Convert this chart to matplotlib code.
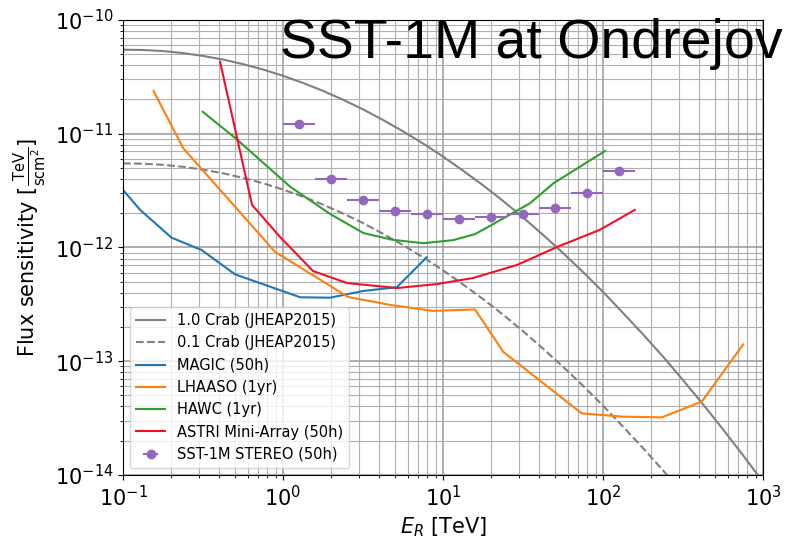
import numpy as np
from matplotlib import pyplot as plt

# Crab spectrum (JHEAP2015), E^2 dN/dE
crab_e = [0.1, 0.133, 0.178, 0.237, 0.316, 0.422, 0.562, 0.75, 1.0, 1.33, 1.78, 2.37,
          3.16, 4.22, 5.62, 7.5, 10.0, 13.3, 17.8, 23.7, 31.6, 42.2, 56.2, 75.0,
          100.0, 133.0, 178.0, 237.0, 316.0, 422.0, 562.0, 750.0, 1000.0]
crab_f = [5.48e-11, 5.45e-11, 5.33e-11, 5.12e-11, 4.83e-11, 4.49e-11, 4.09e-11, 3.67e-11,
          3.23e-11, 2.80e-11, 2.38e-11, 1.99e-11, 1.64e-11, 1.32e-11, 1.05e-11, 8.21e-12,
          6.30e-12, 4.75e-12, 3.52e-12, 2.57e-12, 1.84e-12, 1.29e-12, 8.95e-13, 6.09e-13,
          4.07e-13, 2.67e-13, 1.72e-13, 1.10e-13, 6.83e-14, 4.18e-14, 2.52e-14, 1.49e-14,
          8.69e-15]
crab_tenth = [v * 0.1 for v in crab_f]

magic_e = [0.1, 0.128, 0.201, 0.31, 0.501, 1.28, 1.97, 3.18, 5.14, 7.91]
magic_f = [3.2e-12, 2.14e-12, 1.22e-12, 9.5e-13, 5.81e-13, 3.65e-13, 3.62e-13,
           4.15e-13, 4.47e-13, 8.2e-13]

lhaaso_e = [0.155, 0.238, 0.89, 2.55, 4.66, 8.66, 15.85, 23.8, 73.6, 131, 233, 414, 753]
lhaaso_f = [2.38e-11, 7.45e-12, 9.18e-13, 3.67e-13, 3.13e-13, 2.77e-13, 2.85e-13,
            1.21e-13, 3.48e-14, 3.26e-14, 3.21e-14, 4.41e-14, 1.41e-13]

hawc_e = [0.315, 0.514, 1.106, 1.97, 3.18, 4.8, 7.53, 11.55, 15.85, 19.7, 35, 48.9, 103]
hawc_f = [1.56e-11, 8.93e-12, 3.43e-12, 1.97e-12, 1.34e-12, 1.17e-12, 1.09e-12,
          1.16e-12, 1.31e-12, 1.55e-12, 2.45e-12, 3.66e-12, 7.05e-12]

astri_e = [0.404, 0.64, 0.957, 1.54, 2.51, 5.16, 9.17, 15.4, 29, 51.6, 95.6, 158]
astri_f = [4.3e-11, 2.37e-12, 1.24e-12, 6.21e-13, 4.87e-13, 4.40e-13, 4.77e-13,
           5.39e-13, 7.02e-13, 1.01e-12, 1.43e-12, 2.14e-12]

sst_edges = [1.0, 1.585, 2.512, 3.981, 6.31, 10.0, 15.85, 25.12, 39.81, 63.1, 100.0, 158.5]
sst_e = [1.26, 2.0, 3.16, 5.0, 7.94, 12.6, 20.0, 31.6, 50.1, 79.4, 126]
sst_f = [1.21e-11, 4.0e-12, 2.62e-12, 2.08e-12, 1.98e-12, 1.78e-12, 1.84e-12,
         1.97e-12, 2.21e-12, 3.03e-12, 4.68e-12]

fig = plt.figure(figsize=(7.87, 5.40), dpi=100)
ax = fig.add_axes([0.1563, 0.1204, 0.8132, 0.8426])

ax.plot(crab_e, crab_f, color='gray', lw=1.5, label='1.0 Crab (JHEAP2015)')
ax.plot(crab_e, crab_tenth, color='gray', lw=1.5, ls='--', label='0.1 Crab (JHEAP2015)')
ax.plot(magic_e, magic_f, color='#1f77b4', lw=1.5, label='MAGIC (50h)')
ax.plot(lhaaso_e, lhaaso_f, color='#ff7f0e', lw=1.5, label='LHAASO (1yr)')
ax.plot(hawc_e, hawc_f, color='#2ca02c', lw=1.5, label='HAWC (1yr)')
ax.plot(astri_e, astri_f, color='#f0102a', lw=1.5, label='ASTRI Mini-Array (50h)')

lo = [c - a for c, a in zip(sst_e, sst_edges[:-1])]
hi = [b - c for c, b in zip(sst_e, sst_edges[1:])]
ax.errorbar(sst_e, sst_f, xerr=[lo, hi], fmt='o', color='#9467bd', ms=6, lw=1.5,
            label='SST-1M STEREO (50h)')

ax.set_xscale('log')
ax.set_yscale('log')
ax.set_xlim(0.1, 1000)
ax.set_ylim(1e-14, 1e-10)
ax.grid(True, which='major', color='#999999', lw=1.1)
ax.grid(True, which='minor', color='#b0b0b0', lw=0.8)
ax.tick_params(labelsize=15)
ax.set_xlabel(r'$E_R$ [TeV]', fontsize=15)
ax.set_ylabel(r'Flux sensitivity [$\frac{\rm TeV}{\rm s cm^2}$]', fontsize=15)
ax.legend(loc='lower left', fontsize=10.5)

fig.text(280 / 787, 1 - 58 / 540, 'SST-1M at Ondrejov', fontsize=40,
         family='Liberation Sans', va='baseline')

plt.savefig('out.png', dpi=100)
